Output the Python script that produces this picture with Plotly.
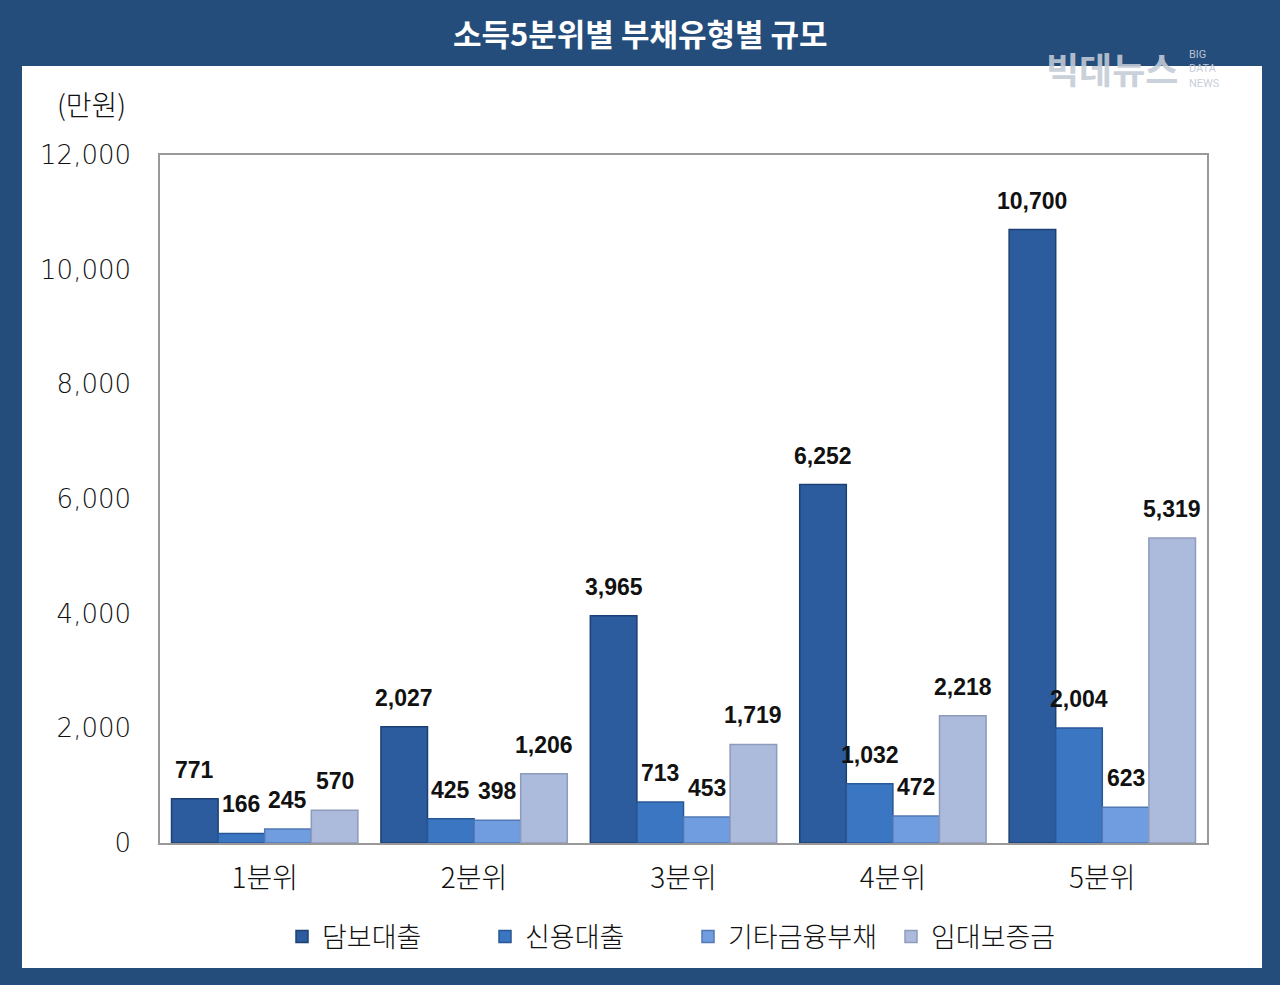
import plotly.graph_objects as go

categories = ["1분위", "2분위", "3분위", "4분위", "5분위"]
series_names = ["담보대출", "신용대출", "기타금융부채", "임대보증금"]
mortgage = [771, 2027, 3965, 6252, 10700]
credit = [166, 425, 713, 1032, 2004]
other_fin = [245, 398, 453, 472, 623]
lease_deposit = [570, 1206, 1719, 2218, 5319]
y_ticks = [0, 2000, 4000, 6000, 8000, 10000, 12000]

values = [mortgage, credit, other_fin, lease_deposit]
colors = ["#2d5c9e", "#3a76c2", "#6f9de0", "#acbadb"]
lines = ["#1d4074", "#285796", "#5278b4", "#8e9cbc"]

FONT = "Noto Sans CJK KR"
BARGAP = 0.11

W, H = 1280, 985
L, R, T, B = 160, 1207, 155, 843
pw, ph = R - L, B - T

def px(x):
    return (x - L) / pw

def py(y):
    return (B - y) / ph

fig = go.Figure()
group_px = pw / len(categories)
bar_px = group_px * (1 - BARGAP) / len(values)
annos = []
for i, (name, vals, c, lc) in enumerate(zip(series_names, values, colors, lines)):
    fig.add_trace(go.Bar(
        name=name, x=categories, y=vals,
        marker=dict(color=c, line=dict(color=lc, width=1.5)),
    ))
    shift = (i - (len(values) - 1) / 2) * bar_px
    for cat, v in zip(categories, vals):
        annos.append(dict(x=cat, y=v, xref="x", yref="y", text=f"{v:,}",
                          showarrow=False, xanchor="center", yanchor="bottom",
                          xshift=shift, yshift=14,
                          font=dict(family="Liberation Sans", size=23, color="#111111",
                                    weight="bold")))

annos += [
    dict(text="<b>소득5분위별 부채유형별 규모</b>", xref="paper", yref="paper",
         x=px(640), y=py(32), showarrow=False, xanchor="center", yanchor="middle",
         font=dict(size=31, color="white", family=FONT)),
    dict(text="(만원)", xref="paper", yref="paper",
         x=px(91), y=py(104), showarrow=False, xanchor="center", yanchor="middle",
         font=dict(size=28, color="#111111", family=FONT, weight=300)),
    dict(text="<b>빅데뉴스</b>", xref="paper", yref="paper",
         x=px(1112), y=py(68), showarrow=False, xanchor="center", yanchor="middle",
         font=dict(size=36, color="rgba(195,203,214,0.9)", family=FONT)),
    dict(text="BIG<br>DATA<br>NEWS", xref="paper", yref="paper",
         x=px(1187), y=py(69), showarrow=False, xanchor="left", yanchor="middle",
         align="left",
         font=dict(size=11, color="rgba(195,203,214,0.95)", family="Roboto")),
]

fig.update_layout(
    width=W, height=H,
    margin=dict(l=L, r=W - R, t=T, b=H - B),
    paper_bgcolor="#244d7b",
    plot_bgcolor="white",
    barmode="group", bargap=BARGAP, bargroupgap=0,
    font=dict(family=FONT, color="#111111"),
    showlegend=True,
    legend=dict(orientation="h", x=px(688), xanchor="center", y=py(937), yanchor="middle",
                font=dict(size=27, family=FONT, color="#111111", weight=300),
                itemwidth=30, entrywidth=158, entrywidthmode="pixels",
                bgcolor="rgba(0,0,0,0)", traceorder="normal"),
    shapes=[dict(type="rect", xref="paper", yref="paper",
                 x0=px(22), x1=px(1262), y0=py(968), y1=py(66),
                 fillcolor="white", line=dict(width=0), layer="below")],
    annotations=annos,
)

fig.update_yaxes(range=[0, 12000], tickvals=y_ticks, tickformat=",",
                 tickfont=dict(size=26, family="DejaVu Sans", color="#111111", weight=300),
                 showgrid=False, zeroline=False, showline=True, linecolor="#999999",
                 linewidth=1.5, mirror=True, ticks="", ticklabelstandoff=22)
fig.update_xaxes(tickfont=dict(size=28, family=FONT, color="#111111", weight=300),
                 showgrid=False, showline=True, linecolor="#999999", linewidth=1.5,
                 mirror=True, ticks="", ticklabelstandoff=10)

fig.write_html("out.html", config={"displayModeBar": False},
               post_script="document.body.style.margin='0';document.body.style.padding='0';")
